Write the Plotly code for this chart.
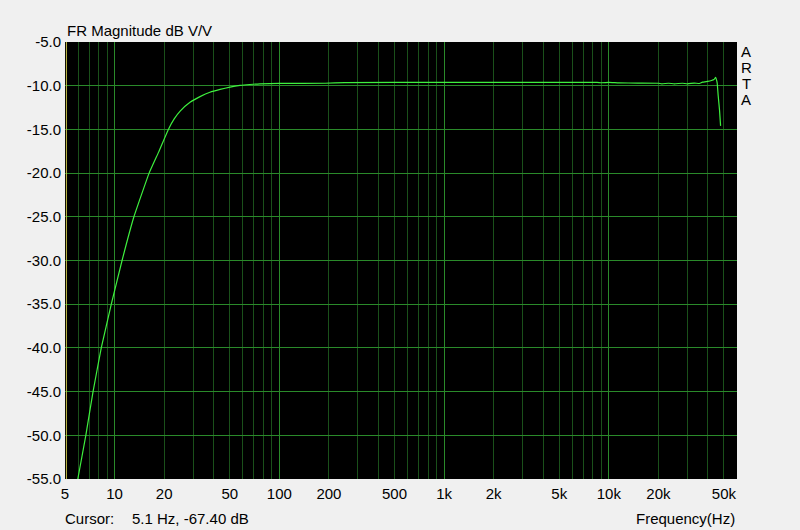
import math
import plotly.graph_objects as go

# ---- data ----
freq_hz = [5.9, 5.98, 6.69, 7.40, 8.30, 9.55, 11.1, 13.1, 16.2, 18.5, 21.2, 23.0, 25.0,
           28.7, 33.0, 37.9, 43.7, 50.2, 57.7, 66.3, 76.2, 100, 190, 250, 1000, 5000,
           8500, 9000, 10000, 11500, 15000, 20000, 21000, 23000, 25000, 28000, 30000,
           33000, 35500, 37000, 39800, 42000, 43500, 44500, 45000, 45500, 46100, 47000,
           47700]
mag_db = [-55.6, -55.0, -50.0, -45.0, -40.0, -35.0, -30.0, -25.0, -20.0, -17.6, -15.0,
          -13.8, -12.9, -11.9, -11.25, -10.75, -10.42, -10.16, -9.97, -9.86, -9.78, -9.74,
          -9.72, -9.64, -9.62, -9.62, -9.62, -9.66, -9.63, -9.68, -9.70, -9.72, -9.78,
          -9.72, -9.78, -9.72, -9.78, -9.70, -9.75, -9.60, -9.50, -9.40, -9.30, -9.05,
          -9.30, -9.70, -11.1, -12.8, -14.6]

x_label_vals = [5, 10, 20, 50, 100, 200, 500, 1000, 2000, 5000, 10000, 20000, 50000]
x_label_text = ["5", "10", "20", "50", "100", "200", "500", "1k", "2k", "5k", "10k", "20k", "50k"]
decades = [10, 100, 1000, 10000]
y_vals = [-55, -50, -45, -40, -35, -30, -25, -20, -15, -10, -5]
y_text = [f"{v:.1f}" for v in y_vals]

x_min, x_max = 5, 60000
cursor_freq = 5.1
cursor_db = -67.40

minor_vals = [m * d for d in [1, 10, 100, 1000, 10000] for m in range(2, 10)
              if x_min < m * d < x_max]

FONT = "Liberation Sans, Arial, sans-serif"
BG = "#f0f0f0"
GRID_BRIGHT = "#2a8a2a"
GRID_DIM = "#1a501a"
CURVE = "#3ef03e"

fig = go.Figure()
fig.add_trace(go.Scatter(x=freq_hz, y=mag_db, mode="lines",
                         line=dict(color=CURVE, width=1.2, shape="spline", smoothing=0.3),
                         showlegend=False, hoverinfo="x+y"))
# carrier for the labelled frequency axis
fig.add_trace(go.Scatter(x=x_label_vals, y=[None] * len(x_label_vals), xaxis="x2",
                         mode="lines", showlegend=False, hoverinfo="skip"))

fig.add_shape(type="line", xref="x", yref="paper", x0=cursor_freq, x1=cursor_freq,
              y0=0, y1=1, line=dict(color="#c8c24a", width=1))

lr = [math.log10(x_min), math.log10(x_max)]
fig.update_layout(
    width=800, height=530,
    paper_bgcolor=BG, plot_bgcolor="black",
    margin=dict(l=65, r=63, t=42, b=51),
    font=dict(family=FONT, size=15, color="black"),
    xaxis=dict(type="log", range=lr, tickvals=decades, showticklabels=False,
               showgrid=True, gridcolor=GRID_BRIGHT, gridwidth=1, ticks="",
               zeroline=False, showline=False,
               minor=dict(tickvals=minor_vals, showgrid=True, gridcolor=GRID_DIM,
                          gridwidth=1, ticks="")),
    xaxis2=dict(type="log", range=lr, overlaying="x", anchor="y", side="bottom",
                tickvals=x_label_vals, ticktext=x_label_text, showgrid=False,
                zeroline=False, showline=False, ticks="", ticklabelstandoff=4,
                tickfont=dict(family=FONT, size=15, color="black")),
    yaxis=dict(range=[-55, -5], tickvals=y_vals, ticktext=y_text, showgrid=True,
               gridcolor=GRID_BRIGHT, gridwidth=1, zeroline=False, showline=False,
               ticks="", ticklabelstandoff=3,
               tickfont=dict(family=FONT, size=15, color="black")),
)

def px_x(p):
    return (p - 65) / 672.0

def px_y(p):
    return (479 - p) / 437.0

ann = [
    dict(text="FR Magnitude dB V/V", x=px_x(65), y=px_y(31), xanchor="left"),
    dict(text="Cursor:", x=px_x(63), y=px_y(518), xanchor="left"),
    dict(text=f"{cursor_freq} Hz, {cursor_db:.2f} dB", x=px_x(130), y=px_y(518), xanchor="left"),
    dict(text="Frequency(Hz)", x=px_x(737), y=px_y(518), xanchor="right"),
]
for i, ch in enumerate("ARTA"):
    ann.append(dict(text=ch, x=px_x(746), y=px_y(51 + 16 * i), xanchor="center",
                    font=dict(family=FONT, size=15, color="black")))
for a in ann:
    a.setdefault("font", dict(family=FONT, size=15, color="black"))
    fig.add_annotation(xref="paper", yref="paper", showarrow=False, yanchor="middle", **a)

fig.write_html("out.html",
               config={"displayModeBar": False},
               post_script="document.body.style.margin='0';"
                           "document.body.style.background='#f0f0f0';"
                           "document.body.style.overflow='hidden';")
